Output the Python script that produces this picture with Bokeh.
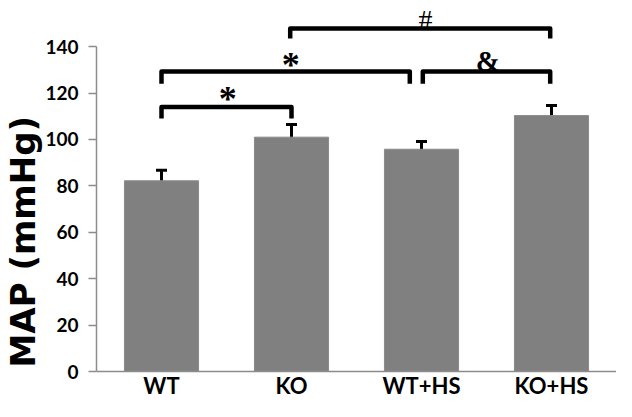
import numpy as np
from bokeh.plotting import figure
from bokeh.models import Range1d, FixedTicker, Whisker, TeeHead, ColumnDataSource, Title
from bokeh.core.properties import value
from bokeh.embed import file_html
from bokeh.resources import INLINE

# ---- data ----
categories = ["WT", "KO", "WT+HS", "KO+HS"]
map_mean = [82.2, 101.0, 95.8, 110.3]
map_err = [4.5, 5.5, 3.3, 4.3]
y_ticks = [0, 20, 40, 60, 80, 100, 120, 140]
y_title = "MAP (mmHg)"

# significance brackets
bracket_left = ["WT", "WT", "WT+HS", "KO"]
bracket_right = ["KO", "WT+HS", "KO+HS", "KO+HS"]
bracket_top = [114.0, 129.3, 129.3, 147.8]
bracket_leg = [109.0, 124.0, 124.0, 143.5]
bracket_symbol = ["*", "*", "&", "#"]
symbol_y = [117.3, 132.0, 134.0, 151.5]

# ---- layout / style ----
left_off = [0.0, 0.0, 0.01, -0.01]
right_off = [0.0, -0.09, -0.01, -0.01]
sym_off = [0.01, 0.04, 0.01, 0.04]
sym_size = ["36px", "36px", "29px", "28px"]
sym_style = ["bold", "bold", "bold", "normal"]

idx = {c: i + 0.5 for i, c in enumerate(categories)}
xpos = [idx[c] for c in categories]

p = figure(width=616, height=401, x_range=Range1d(0, len(categories)),
           y_range=Range1d(0, 159.9), output_backend="svg", toolbar_location=None,
           min_border_top=0, min_border_right=0, min_border_left=94, min_border_bottom=0)

p.vbar(x=xpos, top=map_mean, width=0.57, fill_color="#808080", line_color="#8a8a8a")

src = ColumnDataSource(dict(x=xpos,
                            upper=[m + e for m, e in zip(map_mean, map_err)],
                            lower=[m - e for m, e in zip(map_mean, map_err)]))
p.add_layout(Whisker(base="x", upper="upper", lower="lower", source=src,
                     line_width=3, line_color="black",
                     upper_head=TeeHead(size=11, line_width=3, line_color="black"),
                     lower_head=TeeHead(size=11, line_width=3, line_color="black")))

xs, ys, tx = [], [], []
for i in range(len(bracket_left)):
    x1 = idx[bracket_left[i]] + left_off[i]
    x2 = idx[bracket_right[i]] + right_off[i]
    xs.append([x1, x1, x2, x2])
    ys.append([bracket_leg[i], bracket_top[i], bracket_top[i], bracket_leg[i]])
    tx.append((x1 + x2) / 2 + sym_off[i])
p.multi_line(xs, ys, line_width=4.5, line_color="black", line_join="round")
sym_src = ColumnDataSource(dict(x=tx, y=symbol_y, t=bracket_symbol, s=sym_size, st=sym_style))
p.text(x="x", y="y", text="t", source=sym_src, text_font=value("Liberation Serif"),
       text_font_style="st", text_font_size="s", text_align="center",
       text_baseline="middle", text_color="black")

p.grid.visible = False
p.outline_line_color = None

axis_col = "#8c8c8c"
p.yaxis.ticker = FixedTicker(ticks=y_ticks)
p.yaxis.bounds = (0, 140)
p.yaxis.axis_line_color = axis_col
p.yaxis.axis_line_width = 1.5
p.yaxis.major_tick_line_color = axis_col
p.yaxis.major_tick_line_width = 1.5
p.yaxis.major_tick_out = 8
p.yaxis.major_tick_in = 0
p.yaxis.minor_tick_line_color = None
p.yaxis.major_label_text_font = "Lato"
p.yaxis.major_label_text_font_style = "bold"
p.yaxis.major_label_text_font_size = "19px"
p.yaxis.major_label_text_color = "black"
p.yaxis.major_label_standoff = 10

# y-axis title as a side-panel title, starting near the bottom like the original
p.add_layout(Title(text=y_title, align="left", offset=4, standoff=0,
                   text_font="DejaVu Sans", text_font_style="bold",
                   text_font_size="34px", text_color="black"), "left")

p.xaxis.ticker = FixedTicker(ticks=xpos)
p.xaxis.major_label_overrides = {x: c for x, c in zip(xpos, categories)}
p.xaxis.axis_line_color = axis_col
p.xaxis.axis_line_width = 1.5
p.xaxis.major_tick_line_color = None
p.xaxis.major_tick_out = 0
p.xaxis.major_tick_in = 0
p.xaxis.minor_tick_line_color = None
p.xaxis.major_label_text_font = "Lato"
p.xaxis.major_label_text_font_style = "bold"
p.xaxis.major_label_text_font_size = "22px"
p.xaxis.major_label_text_color = "black"
p.xaxis.major_label_standoff = 0

open("out.html", "w").write(file_html(p, INLINE))
